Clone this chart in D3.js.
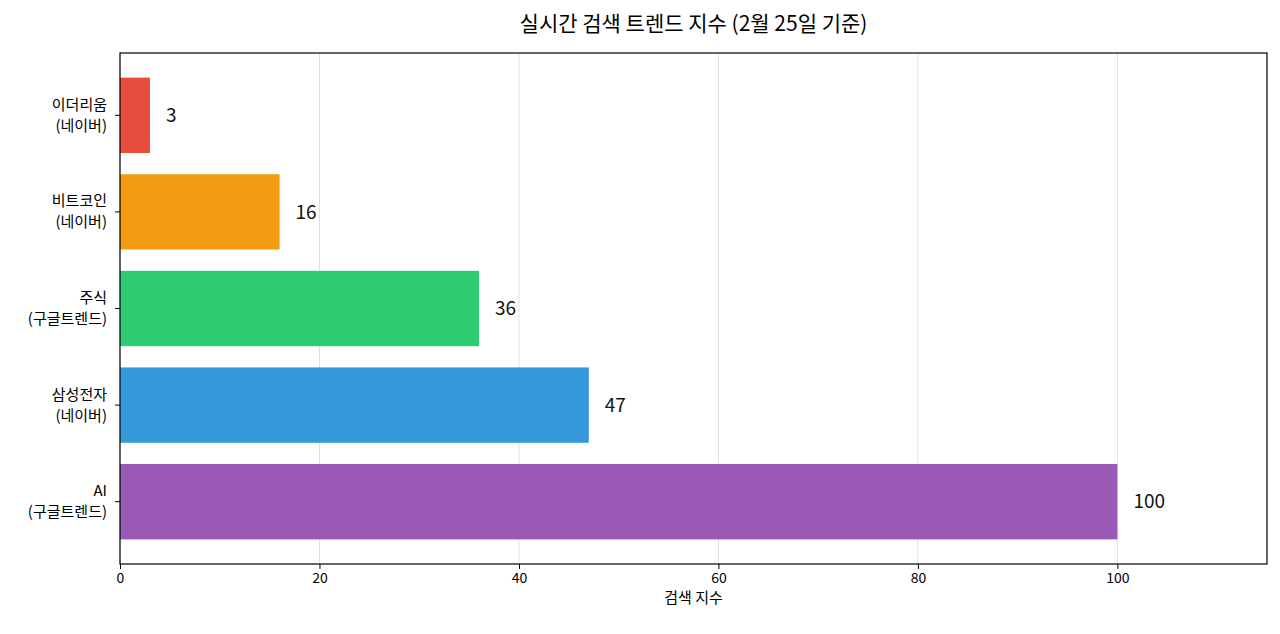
<!DOCTYPE html>
<html><head><meta charset="utf-8">
<script src="https://cdn.jsdelivr.net/npm/d3@7"></script>
<style>body{margin:0;background:#fff;font-family:"Noto Sans CJK KR","Noto Sans",sans-serif;}</style>
</head><body>
<svg id="chart" width="1280" height="634"></svg>
<script>
// data
var labels = ["이더리움\n(네이버)", "비트코인\n(네이버)", "주식\n(구글트렌드)", "삼성전자\n(네이버)", "AI\n(구글트렌드)"];
var values = [3, 16, 36, 47, 100];
var colors = ["#e74c3c", "#f39c12", "#2ecc71", "#3498db", "#9b59b6"];
var xTicks = [0, 20, 40, 60, 80, 100];

var svg = d3.select("#chart");
var pLeft = 120, pRight = 1267, pTop = 53, pBottom = 564;

var x = d3.scaleLinear().domain([0, 115]).range([pLeft, pRight]);
var y = d3.scaleBand().domain(labels).range([pTop + 14, pBottom - 14]).paddingInner(0.22).paddingOuter(0.11);

// grid
svg.append("g").selectAll("line").data(xTicks).enter().append("line")
    .attr("x1", d => x(d)).attr("x2", d => x(d))
    .attr("y1", pTop).attr("y2", pBottom)
    .attr("stroke", "#e0e0e0").attr("stroke-width", 1);

// bars
svg.append("g").selectAll("rect").data(values).enter().append("rect")
    .attr("x", x(0))
    .attr("y", (d, i) => y(labels[i]))
    .attr("width", d => x(d) - x(0))
    .attr("height", y.bandwidth())
    .attr("fill", (d, i) => colors[i]);

// value labels
svg.append("g").selectAll("text").data(values).enter().append("text")
    .attr("x", d => x(d) + 16)
    .attr("y", (d, i) => y(labels[i]) + y.bandwidth() / 2)
    .attr("dy", "0.35em")
    .attr("font-size", 19)
    .attr("fill", "#111")
    .text(d => d);

// frame
svg.append("rect").attr("x", pLeft).attr("y", pTop)
    .attr("width", pRight - pLeft).attr("height", pBottom - pTop)
    .attr("fill", "none").attr("stroke", "#000").attr("stroke-width", 1.2);

// x axis
var xa = svg.append("g").attr("transform", "translate(0," + pBottom + ")")
    .call(d3.axisBottom(x).tickValues(xTicks).tickSize(5).tickPadding(4));
xa.select(".domain").remove();
xa.selectAll("text").attr("font-size", 14).attr("fill", "#000").attr("font-family", "Noto Sans CJK KR");

// y axis
var ya = svg.append("g").attr("transform", "translate(" + pLeft + ",0)")
    .call(d3.axisLeft(y).tickSize(5).tickFormat(""));
ya.select(".domain").remove();
labels.forEach(function(l) {
    var parts = l.split("\n");
    var cy = y(l) + y.bandwidth() / 2;
    var t = svg.append("text").attr("text-anchor", "end").attr("font-size", 15).attr("fill", "#000");
    parts.forEach(function(p, j) {
        t.append("tspan").attr("x", pLeft - 13).attr("y", cy + (j - 0.5) * 21 + 5).text(p);
    });
});

// titles
svg.append("text").attr("x", (pLeft + pRight) / 2).attr("y", 603)
    .attr("text-anchor", "middle").attr("font-size", 15).text("검색 지수");
svg.append("text").attr("x", (pLeft + pRight) / 2).attr("y", 31)
    .attr("text-anchor", "middle").attr("font-size", 21).text("실시간 검색 트렌드 지수 (2월 25일 기준)");
</script>
</body></html>
